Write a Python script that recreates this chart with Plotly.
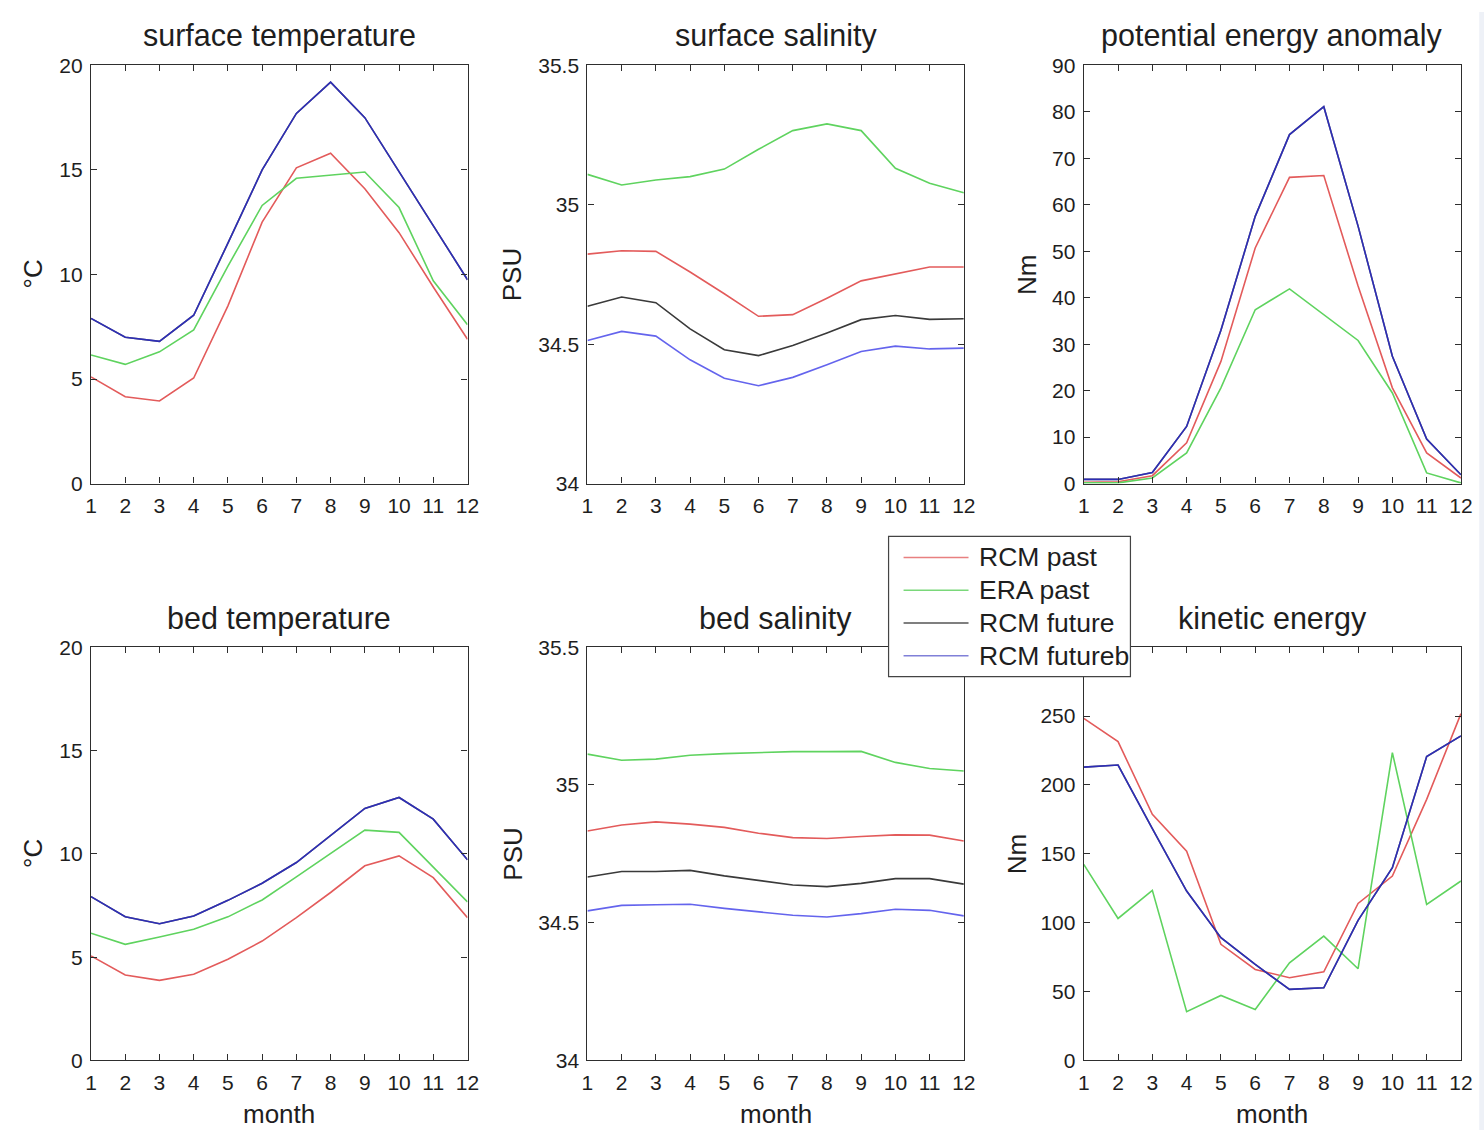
import plotly.graph_objects as go

# ---------------- data ----------------
months = list(range(1, 13))
month_labels = [str(m) for m in months]

series_names = ["RCM past", "ERA past", "RCM future", "RCM futureb"]

# surface temperature (°C)
sst_rcm_past = [5.1, 4.15, 3.95, 5.05, 8.5, 12.5, 15.1, 15.8, 14.1, 12.0, 9.4, 6.9]
sst_era_past = [6.15, 5.7, 6.3, 7.35, 10.4, 13.3, 14.6, 14.75, 14.9, 13.2, 9.7, 7.6]
sst_rcm_future = [7.9, 7.0, 6.8, 8.05, 11.5, 15.0, 17.7, 19.2, 17.5, 14.9, 12.3, 9.75]
sst_rcm_futureb = [7.9, 7.0, 6.8, 8.05, 11.5, 15.0, 17.7, 19.2, 17.5, 14.9, 12.3, 9.75]

# surface salinity (PSU)
sss_rcm_past = [34.823, 34.835, 34.833, 34.759, 34.681, 34.600, 34.606, 34.665, 34.727, 34.753, 34.777, 34.777]
sss_era_past = [35.109, 35.071, 35.089, 35.101, 35.128, 35.199, 35.266, 35.290, 35.266, 35.131, 35.077, 35.043]
sss_rcm_future = [34.636, 34.669, 34.649, 34.555, 34.480, 34.459, 34.495, 34.540, 34.588, 34.603, 34.589, 34.591]
sss_rcm_futureb = [34.513, 34.546, 34.529, 34.444, 34.378, 34.351, 34.381, 34.426, 34.474, 34.493, 34.483, 34.486]

# potential energy anomaly (Nm)
pea_rcm_past = [0.3, 0.4, 1.7, 8.8, 26.3, 50.7, 65.9, 66.3, 42.5, 20.6, 6.6, 1.2]
pea_era_past = [0.15, 0.15, 1.2, 6.6, 20.6, 37.4, 41.9, 36.4, 30.8, 19.5, 2.3, 0.15]
pea_rcm_future = [0.9, 0.9, 2.4, 12.3, 33.0, 57.5, 75.1, 81.1, 55.4, 27.4, 9.6, 1.9]
pea_rcm_futureb = [0.9, 0.9, 2.4, 12.3, 33.0, 57.5, 75.1, 81.1, 55.4, 27.4, 9.6, 1.9]

# bed temperature (°C)
bt_rcm_past = [5.06, 4.14, 3.88, 4.17, 4.9, 5.78, 6.91, 8.13, 9.42, 9.9, 8.85, 6.91]
bt_era_past = [6.16, 5.62, 5.98, 6.35, 6.95, 7.77, 8.89, 10.03, 11.15, 11.04, 9.34, 7.67]
bt_rcm_future = [7.93, 6.96, 6.62, 6.99, 7.75, 8.58, 9.58, 10.87, 12.2, 12.73, 11.68, 9.71]
bt_rcm_futureb = [7.93, 6.96, 6.62, 6.99, 7.75, 8.58, 9.58, 10.87, 12.2, 12.73, 11.68, 9.71]

# bed salinity (PSU)
bs_rcm_past = [34.833, 34.855, 34.866, 34.858, 34.846, 34.825, 34.809, 34.806, 34.813, 34.819, 34.818, 34.797]
bs_era_past = [35.112, 35.090, 35.094, 35.108, 35.114, 35.118, 35.121, 35.121, 35.122, 35.082, 35.060, 35.051]
bs_rcm_future = [34.666, 34.686, 34.686, 34.690, 34.670, 34.654, 34.637, 34.631, 34.643, 34.660, 34.660, 34.640]
bs_rcm_futureb = [34.543, 34.563, 34.565, 34.567, 34.552, 34.540, 34.527, 34.521, 34.533, 34.549, 34.545, 34.525]

# kinetic energy (Nm)
ke_rcm_past = [248.4, 231.5, 178.7, 152.0, 84.3, 66.1, 60.1, 64.4, 114.0, 133.9, 189.6, 251.8]
ke_era_past = [142.4, 103.1, 123.5, 35.4, 47.2, 37.0, 70.9, 90.3, 66.6, 223.5, 113.3, 130.3]
ke_rcm_future = [213.0, 214.5, 168.3, 123.0, 89.1, 69.7, 51.6, 52.8, 101.7, 140.0, 220.6, 235.6]
ke_rcm_futureb = [213.0, 214.5, 168.3, 123.0, 89.1, 69.7, 51.6, 52.8, 101.7, 140.0, 220.6, 235.6]

temp_ticks = [0, 5, 10, 15, 20]
temp_tick_text = ["0", "5", "10", "15", "20"]
sal_ticks = [34, 34.5, 35, 35.5]
sal_tick_text = ["34", "34.5", "35", "35.5"]
pea_ticks = [0, 10, 20, 30, 40, 50, 60, 70, 80, 90]
pea_tick_text = ["0", "10", "20", "30", "40", "50", "60", "70", "80", "90"]
ke_ticks = [0, 50, 100, 150, 200, 250, 300]
ke_tick_text = ["0", "50", "100", "150", "200", "250", ""]  # top label sits under the legend

# ---------------- styling ----------------
FW, FH = 1500, 1150          # figure size
PAD = 8                      # page margin around the figure
# screen placement of the page: screen = S * page + B
SX, BX = 0.98855, -2.97
SY, BY = 0.9785, 4.6

FONT = "Liberation Sans, Arial, Helvetica, sans-serif"
TXT = "#1e1e1e"
AX = "#2e2e2e"
line_colors = ["#e35b5b", "#5fd35f", "#3a3a3a", "rgba(40,40,230,0.72)"]
legend_colors = ["#e88080", "#7ad87a", "#555555", "#8080d8"]

# panel frames in screen pixels (left, right) and (top, bottom)
col_px = [(90.0, 466.7), (586.7, 963.3), (1083.3, 1460.7)]
row_px = [(65.7, 483.3), (646.7, 1059.3)]


def fx(x):
    return ((x - BX) / SX - PAD) / FW


def fy(y):
    return 1 - ((y - BY) / SY - PAD) / FH


panels = [
    dict(title="surface temperature", ylabel="°C", rng=[0, 20], ticks=temp_ticks, text=temp_tick_text,
         data=[sst_rcm_past, sst_era_past, sst_rcm_future, sst_rcm_futureb], row=0, col=0, ylab_x=32),
    dict(title="surface salinity", ylabel="PSU", rng=[34, 35.5], ticks=sal_ticks, text=sal_tick_text,
         data=[sss_rcm_past, sss_era_past, sss_rcm_future, sss_rcm_futureb], row=0, col=1, ylab_x=512),
    dict(title="potential energy anomaly", ylabel="Nm", rng=[0, 90], ticks=pea_ticks, text=pea_tick_text,
         data=[pea_rcm_past, pea_era_past, pea_rcm_future, pea_rcm_futureb], row=0, col=2, ylab_x=1027),
    dict(title="bed temperature", ylabel="°C", rng=[0, 20], ticks=temp_ticks, text=temp_tick_text,
         data=[bt_rcm_past, bt_era_past, bt_rcm_future, bt_rcm_futureb], row=1, col=0, ylab_x=32),
    dict(title="bed salinity", ylabel="PSU", rng=[34, 35.5], ticks=sal_ticks, text=sal_tick_text,
         data=[bs_rcm_past, bs_era_past, bs_rcm_future, bs_rcm_futureb], row=1, col=1, ylab_x=512),
    dict(title="kinetic energy", ylabel="Nm", rng=[0, 300], ticks=ke_ticks, text=ke_tick_text,
         data=[ke_rcm_past, ke_era_past, ke_rcm_future, ke_rcm_futureb], row=1, col=2, ylab_x=1016),
]

fig = go.Figure()
annotations = []
shapes = []
layout_axes = {}

for i, p in enumerate(panels, start=1):
    xa = "x" if i == 1 else f"x{i}"
    ya = "y" if i == 1 else f"y{i}"
    for name, vals, color in zip(series_names, p["data"], line_colors):
        fig.add_trace(go.Scatter(
            x=months, y=vals, mode="lines", name=name, xaxis=xa, yaxis=ya,
            line=dict(color=color, width=1.6), showlegend=False, hoverinfo="x+y+name",
        ))

    x0, x1 = col_px[p["col"]]
    y0, y1 = row_px[p["row"]]
    common = dict(
        showline=True, linecolor=AX, linewidth=1.2, mirror="ticks",
        ticks="inside", ticklen=6, tickwidth=1.2, tickcolor=AX,
        showgrid=False, zeroline=False,
        tickfont=dict(family=FONT, size=21, color=TXT),
    )
    layout_axes["xaxis" if i == 1 else f"xaxis{i}"] = dict(
        domain=[fx(x0), fx(x1)], range=[1, 12], tickvals=months, ticktext=month_labels,
        anchor=ya, ticklabelstandoff=3, **common)
    layout_axes["yaxis" if i == 1 else f"yaxis{i}"] = dict(
        domain=[fy(y1), fy(y0)], range=p["rng"], tickvals=p["ticks"], ticktext=p["text"],
        anchor=xa, ticklabelstandoff=3, **common)

    cx = (x0 + x1) / 2
    title_y = 36 if p["row"] == 0 else 618
    annotations.append(dict(
        text=p["title"], x=fx(cx), y=fy(title_y), xref="paper", yref="paper",
        xanchor="center", yanchor="middle", showarrow=False,
        font=dict(family=FONT, size=30.5, color=TXT)))
    annotations.append(dict(
        text=p["ylabel"], x=fx(p["ylab_x"]), y=fy((y0 + y1) / 2), xref="paper", yref="paper",
        xanchor="center", yanchor="middle", showarrow=False, textangle=-90,
        font=dict(family=FONT, size=26, color=TXT)))
    if p["row"] == 1:
        annotations.append(dict(
            text="month", x=fx(cx), y=fy(1113), xref="paper", yref="paper",
            xanchor="center", yanchor="middle", showarrow=False,
            font=dict(family=FONT, size=26, color=TXT)))

# legend box drawn over the lower panels
lg_x0, lg_x1, lg_y0, lg_y1 = 888, 1130, 536, 676
shapes.append(dict(type="rect", xref="paper", yref="paper", layer="above",
                   x0=fx(lg_x0), x1=fx(lg_x1), y0=fy(lg_y1), y1=fy(lg_y0),
                   fillcolor="white", line=dict(color="#444444", width=1.2)))
for k, (name, col) in enumerate(zip(series_names, legend_colors)):
    yy = 557 + k * 32.7
    shapes.append(dict(type="line", xref="paper", yref="paper", layer="above",
                       x0=fx(903), x1=fx(968), y0=fy(yy), y1=fy(yy),
                       line=dict(color=col, width=1.5)))
    annotations.append(dict(
        text=name, x=fx(976), y=fy(yy), xref="paper", yref="paper",
        xanchor="left", yanchor="middle", showarrow=False,
        font=dict(family=FONT, size=26.5, color=TXT)))

# pale strip along the right edge of the page
shapes.append(dict(type="rect", xref="paper", yref="paper", layer="below",
                   x0=fx(1479), x1=1, y0=0, y1=1, fillcolor="#eef1f7", line=dict(width=0)))

fig.update_layout(
    width=FW, height=FH,
    margin=dict(l=0, r=0, t=0, b=0),
    paper_bgcolor="white", plot_bgcolor="white",
    showlegend=False,
    annotations=annotations, shapes=shapes,
    font=dict(family=FONT, color=TXT),
    **layout_axes,
)

fig.write_html("out.html")
